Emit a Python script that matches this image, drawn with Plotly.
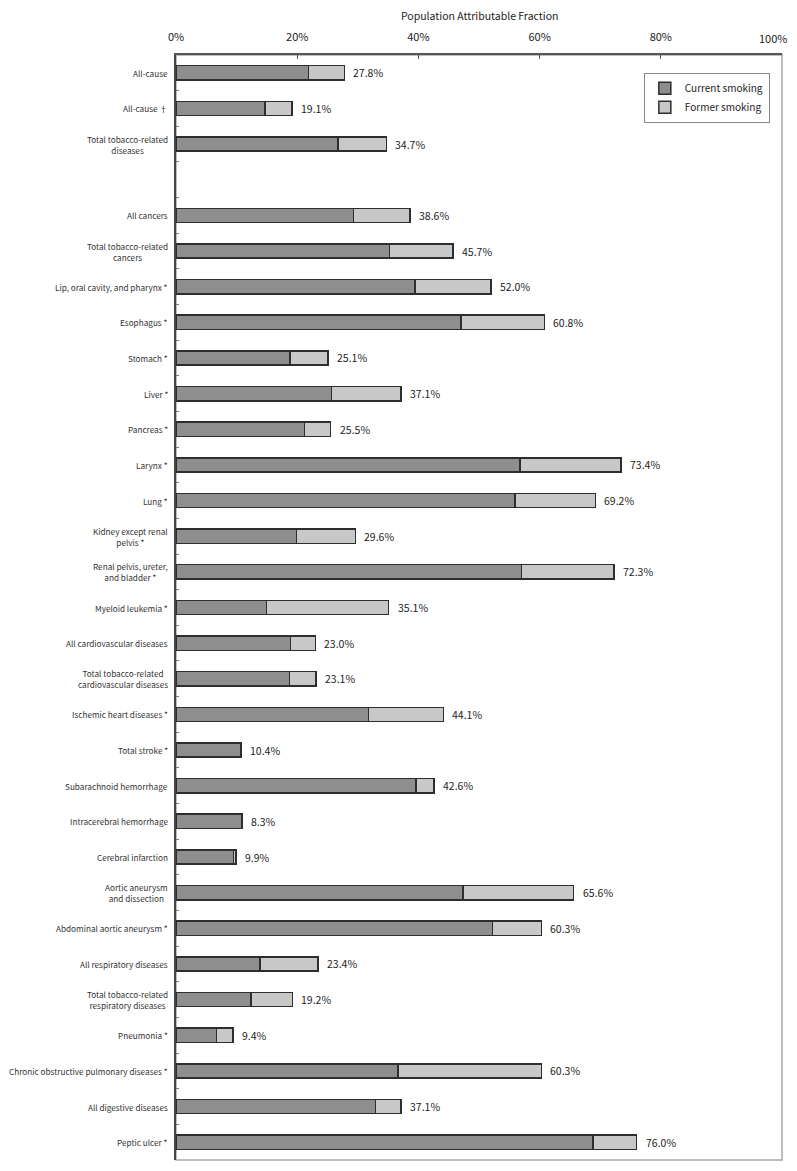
import plotly.graph_objects as go

categories = [
    "All-cause", "All-cause †", "Total tobacco-related<br>diseases", " ",
    "All cancers", "Total tobacco-related<br>cancers", "Lip, oral cavity, and pharynx *",
    "Esophagus *", "Stomach *", "Liver *", "Pancreas *", "Larynx *", "Lung *",
    "Kidney except renal<br>pelvis *", "Renal pelvis, ureter,<br>and bladder *",
    "Myeloid leukemia *", "All cardiovascular diseases",
    "Total tobacco-related<br>cardiovascular diseases", "Ischemic heart diseases *",
    "Total stroke *", "Subarachnoid hemorrhage", "Intracerebral hemorrhage",
    "Cerebral infarction", "Aortic aneurysm<br>and dissection",
    "Abdominal aortic aneurysm *", "All respiratory diseases",
    "Total tobacco-related<br>respiratory diseases", "Pneumonia *",
    "Chronic obstructive pulmonary diseases *", "All digestive diseases", "Peptic ulcer *",
]

current_smoking = [21.9, 14.7, 26.7, None, 29.3, 35.2, 39.4, 47.0, 18.8, 25.7, 21.2,
                   56.8, 55.9, 19.9, 57.0, 14.9, 18.9, 18.7, 31.8, 10.7, 39.6, 10.9,
                   9.5, 47.4, 52.2, 13.9, 12.4, 6.7, 36.6, 32.9, 68.8]
former_smoking = [5.9, 4.4, 8.0, None, 9.3, 10.5, 12.6, 13.8, 6.3, 11.4, 4.3,
                  16.6, 13.3, 9.7, 15.3, 20.2, 4.1, 4.4, 12.3, 0.0, 3.0, 0.0,
                  0.4, 18.2, 8.1, 9.5, 6.8, 2.7, 23.7, 4.2, 7.2]
total_labels = ["27.8%", "19.1%", "34.7%", "", "38.6%", "45.7%", "52.0%", "60.8%",
                "25.1%", "37.1%", "25.5%", "73.4%", "69.2%", "29.6%", "72.3%", "35.1%",
                "23.0%", "23.1%", "44.1%", "10.4%", "42.6%", "8.3%", "9.9%", "65.6%",
                "60.3%", "23.4%", "19.2%", "9.4%", "60.3%", "37.1%", "76.0%"]

x_ticks = [0, 20, 40, 60, 80, 100]
x_tick_text = ["0%", "20%", "40%", "60%", "80%", "100%"]

FONT = "Noto Sans CJK JP"

fig = go.Figure()
fig.add_trace(go.Bar(
    y=categories, x=current_smoking, orientation="h", name="Current smoking",
    marker=dict(color="#8e8e8e", line=dict(color="#2e2e2e", width=1.5)),
))
fig.add_trace(go.Bar(
    y=categories, x=former_smoking, orientation="h", name="Former smoking",
    marker=dict(color="#c8c8c8", line=dict(color="#2e2e2e", width=1.5)),
))

# Value labels at bar ends
for cat, c, f, lab in zip(categories, current_smoking, former_smoking, total_labels):
    if not lab:
        continue
    fig.add_annotation(
        x=c + f, xref="x", y=cat, yref="y", text=lab, showarrow=False,
        xanchor="left", yanchor="middle", xshift=7,
        font=dict(family=FONT, size=10.5, color="#222"),
    )

# Category labels (centered multi-line, right-anchored)
for cat in categories:
    if cat.strip() == "":
        continue
    fig.add_annotation(
        x=0, xref="paper", y=cat, yref="y", text=cat, showarrow=False,
        xanchor="right", yanchor="middle", align="center", xshift=-6,
        font=dict(family=FONT, size=8.2, color="#333"),
    )

# Last x tick label placed so it stays inside the page
fig.add_annotation(
    x=1, xref="paper", y=1.0154, yref="paper", text=x_tick_text[-1], showarrow=False,
    xanchor="right", yanchor="middle", xshift=7,
    font=dict(family=FONT, size=11, color="#222"),
)

fig.add_annotation(
    x=0.5, xref="paper", y=1.0355, yref="paper", text="Population Attributable Fraction",
    showarrow=False, xanchor="center", yanchor="middle",
    font=dict(family=FONT, size=10.5, color="#222"),
)

fig.add_shape(type="rect", xref="paper", yref="paper", x0=0, x1=1, y0=0, y1=1,
              line=dict(color="#a8a8a8", width=1.5), layer="below")

fig.update_layout(
    width=781, height=1155,
    margin=dict(l=168, r=7, t=47, b=3, autoexpand=False),
    barmode="stack", bargap=0.6,
    plot_bgcolor="white", paper_bgcolor="white",
    font=dict(family=FONT, size=11, color="#222"),
    legend=dict(
        x=0.772, y=0.984, xanchor="left", yanchor="top", traceorder="normal",
        bordercolor="#888", borderwidth=1, bgcolor="white",
        font=dict(family=FONT, size=10, color="#222"),
        itemwidth=30, tracegroupgap=0,
    ),
    xaxis=dict(
        side="top", range=[0, 100], tickvals=x_ticks,
        ticktext=x_tick_text[:-1] + [""],
        showgrid=False, zeroline=False, showline=True, linecolor="#555", linewidth=1.5,
        ticks="inside", ticklen=4, tickcolor="#555", ticklabelstandoff=8,
        tickfont=dict(family=FONT, size=11, color="#222"), fixedrange=True,
    ),
    yaxis=dict(
        categoryorder="array", categoryarray=categories,
        range=[len(categories) - 0.5, -0.5],
        showticklabels=False, showgrid=False, zeroline=False,
        showline=True, linecolor="#444", linewidth=1.5,
        ticks="inside", ticklen=3, tickcolor="#777", tickson="boundaries",
    ),
)

fig.write_html("out.html")
